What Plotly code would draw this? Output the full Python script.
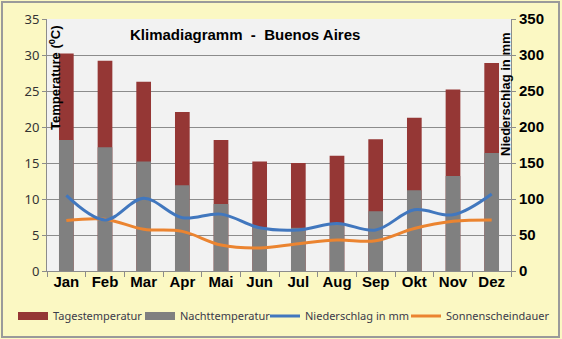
import plotly.graph_objects as go

months = ["Jan", "Feb", "Mar", "Apr", "Mai", "Jun", "Jul", "Aug", "Sep", "Okt", "Nov", "Dez"]
tages_temp = [30.2, 29.2, 26.3, 22.1, 18.2, 15.2, 15.0, 16.0, 18.3, 21.3, 25.2, 28.9]
nacht_temp = [18.2, 17.2, 15.2, 11.9, 9.3, 6.1, 6.0, 6.6, 8.3, 11.2, 13.2, 16.4]
niederschlag = [105, 71, 101, 74, 79, 60, 57, 66, 57, 85, 78, 107]
sonnenschein = [7.0, 7.2, 5.8, 5.5, 3.6, 3.2, 3.8, 4.3, 4.2, 5.9, 6.9, 7.1]

W, H = 562, 339
L, R, T, B = 47, 511, 19, 271
pw, ph = R - L, B - T

RED, GREY, BLUE, ORANGE = "#953735", "#808080", "#4177BE", "#EB8430"

def px(x):
    return (x - L) / pw

def py(y):
    return (B - y) / ph

fig = go.Figure()
fig.add_trace(go.Bar(x=months, y=tages_temp, name="Tagestemperatur", showlegend=False,
                     marker=dict(color=RED, line=dict(width=0)), width=0.38))
fig.add_trace(go.Bar(x=months, y=nacht_temp, name="Nachttemperatur", showlegend=False,
                     marker=dict(color=GREY, line=dict(width=0)), width=0.38))
fig.add_trace(go.Scatter(x=months, y=niederschlag, name="Niederschlag in mm", yaxis="y2",
                         mode="lines", line=dict(color=BLUE, width=3, shape="spline"),
                         legend="legend3"))
fig.add_trace(go.Scatter(x=months, y=sonnenschein, name="Sonnenscheindauer",
                         mode="lines", line=dict(color=ORANGE, width=3, shape="spline"),
                         legend="legend4"))
# legend swatches for the bar series (wide rectangles as in the reference)
fig.add_trace(go.Scatter(x=[None], y=[None], name="Tagestemperatur", mode="lines",
                         line=dict(color=RED, width=8), legend="legend"))
fig.add_trace(go.Scatter(x=[None], y=[None], name="Nachttemperatur", mode="lines",
                         line=dict(color=GREY, width=8), legend="legend2"))

leg_font = dict(family="Noto Sans", size=11, color="#3a3a4a")
def leg(xpix):
    return dict(orientation="h", x=px(xpix - 5), xanchor="left", y=py(316), yanchor="middle",
                font=leg_font, bgcolor="rgba(0,0,0,0)", itemwidth=30, borderwidth=0)

fig.update_layout(
    width=W, height=H,
    margin=dict(l=L, r=W - R, t=T, b=H - B, pad=0, autoexpand=False),
    paper_bgcolor="#FBF8C3",
    plot_bgcolor="#F2F2F2",
    barmode="overlay",
    showlegend=True,
    legend=leg(18), legend2=leg(145), legend3=leg(270), legend4=leg(411),
    xaxis=dict(type="category", showline=True, linecolor="#8c8c8c", linewidth=1,
               ticks="outside", tickson="boundaries", ticklen=5, tickcolor="#8c8c8c",
               ticklabelstandoff=-3,
               tickfont=dict(family="Liberation Sans", size=15, color="#000000", weight="bold"),
               showgrid=False),
    yaxis=dict(range=[0, 35], dtick=5, showline=True, linecolor="#8c8c8c", linewidth=1,
               ticks="outside", ticklen=4, tickcolor="#8c8c8c",
               gridcolor="#8c8c8c", gridwidth=1, zeroline=False,
               tickfont=dict(family="Noto Sans", size=13, color="#333333")),
    yaxis2=dict(range=[0, 350], dtick=50, overlaying="y", side="right", showline=True,
                linecolor="#8c8c8c", linewidth=1, ticks="outside", ticklen=4,
                tickcolor="#8c8c8c", showgrid=False, zeroline=False,
                tickfont=dict(family="Liberation Sans", size=15, color="#000000", weight="bold")),
    font=dict(family="Liberation Sans"),
)

fig.add_annotation(text="Klimadiagramm  -  Buenos Aires", xref="paper", yref="paper",
                   x=px(245), y=py(34), xanchor="center", yanchor="middle", showarrow=False,
                   font=dict(family="Liberation Sans", size=15, color="#000000", weight="bold"))
fig.add_annotation(text="Temperature (<sup>0</sup>C)", xref="paper", yref="paper",
                   x=px(55), y=py(78), xanchor="center", yanchor="middle",
                   textangle=-90, showarrow=False,
                   font=dict(family="Liberation Sans", size=13, color="#000000", weight="bold"))
fig.add_annotation(text="Niederschlag in mm", xref="paper", yref="paper",
                   x=px(505), y=py(94), xanchor="center", yanchor="middle",
                   textangle=-90, showarrow=False,
                   font=dict(family="Liberation Sans", size=13, color="#000000", weight="bold"))

fig.add_shape(type="rect", xref="paper", yref="paper",
              x0=px(2), x1=px(559), y0=py(337), y1=py(2),
              line=dict(color="#9a9a9a", width=2), fillcolor="rgba(0,0,0,0)", layer="above")

fig.write_html("out.html")
